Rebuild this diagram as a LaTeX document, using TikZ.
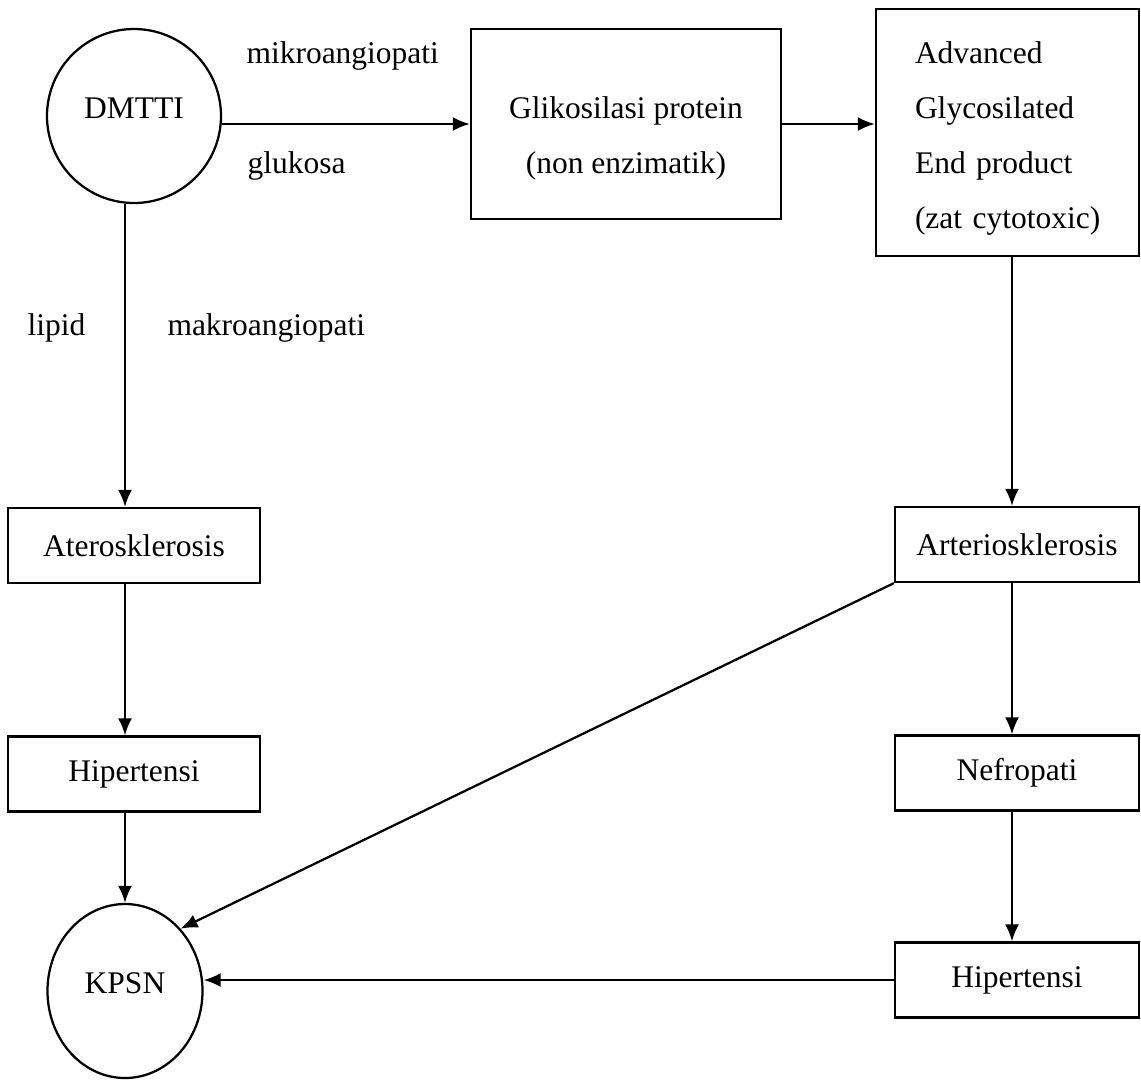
\documentclass[tikz,border=0pt]{standalone}
\usepackage{fontspec}
\setmainfont{Liberation Serif}
\usetikzlibrary{positioning,calc,arrows.meta,shapes.geometric}

\begin{document}
\begin{tikzpicture}[x=0.4pt,y=-0.4pt]
  \useasboundingbox (0,0) rectangle (1141,1082);
  \coordinate(lcol) at (125,0);
  \coordinate(rcol) at (1012,0);
  \begin{scope}[
    every node/.style={
      draw,
      line width=0.9pt,
      align=center,
      anchor=center,
      inner sep=0pt,
      font=\fontsize{12.6}{22}\selectfont,
    },
    ]
    \node[circle,minimum size=69.6pt,text depth=6.4pt] (dmtti) at (134,116) {DMTTI};
    \node[minimum width=124pt,minimum height=76pt,text height=42.6pt] (glik) at (626,124)
      {Glikosilasi protein\\(non enzimatik)};
    \node[align=left,text width=74pt,inner xsep=15.6pt,minimum height=98.8pt,text height=13.8pt]
      (age) at (1007.5,132.5)
      {Advanced\\Glycosilated\\End product\\\mbox{(zat cytotoxic)}};
    \node[minimum width=100.8pt,minimum height=30pt] (ateros) at (134,545.5) {Aterosklerosis};
    \node[minimum width=100.8pt,minimum height=30pt] (hipkiri) at (134,774) {Hipertensi};
    \node[ellipse,minimum width=62pt,minimum height=69.6pt,text depth=6.4pt] (kpsn) at (125,991) {KPSN};
    \node[minimum width=97.6pt,minimum height=30pt] (arterio) at (1017,544.5) {Arteriosklerosis};
    \node[minimum width=97.6pt,minimum height=30pt] (nefro) at (1017,773) {Nefropati};
    \node[minimum width=97.6pt,minimum height=30pt] (hipkanan) at (1017,980) {Hipertensi};
  \end{scope}
  \begin{scope}[
    every node/.style={anchor=base west,inner sep=0pt,font=\fontsize{12.6}{22}\selectfont},
    ]
    \node (mikro)   at (246,63)  {mikroangiopati};
    \node (glukosa) at (247,173) {glukosa};
    \node (lipid)   at (27,335)  {lipid};
    \node (makro)   at (167,335) {makroangiopati};
  \end{scope}
  \begin{scope}[
    every edge/.style={draw,line width=0.9pt},
    >={Latex[length=6.8pt,width=5.6pt]},
    ]
    \path[->]
    (dmtti.east |- glik.west) edge (glik.west)
    (glik.east)               edge (glik.east -| age.west)
    (dmtti.south -| lcol)     edge (ateros.north -| lcol)
    (ateros.south -| lcol)    edge (hipkiri.north -| lcol)
    (hipkiri.south -| lcol)   edge (kpsn.north)
    (age.south -| rcol)       edge (arterio.north -| rcol)
    (arterio.south -| rcol)   edge (nefro.north -| rcol)
    (nefro.south -| rcol)     edge (hipkanan.north -| rcol)
    (arterio.south west)      edge (kpsn.north east)
    (hipkanan.west)           edge (hipkanan.west -| kpsn.east);
  \end{scope}
\end{tikzpicture}
\end{document}
